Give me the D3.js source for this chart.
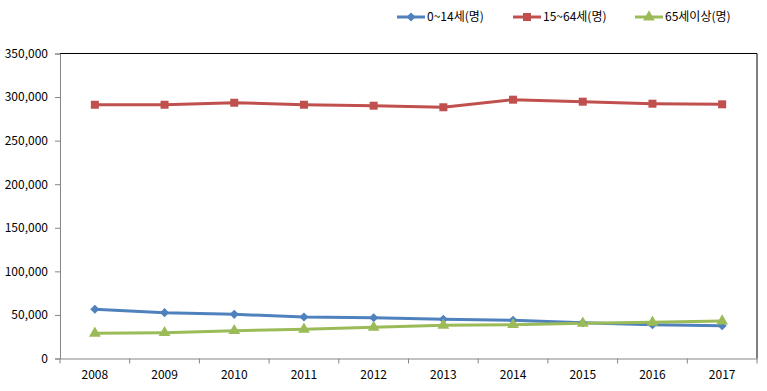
<!DOCTYPE html>
<html><head><meta charset="utf-8">
<script src="https://cdn.jsdelivr.net/npm/d3@7"></script>
<style>body{margin:0;background:#fff}svg{display:block}text{font-family:"Malgun Gothic","Noto Sans CJK KR",sans-serif;font-size:12px;fill:#000}</style>
</head><body><svg id="c" width="767" height="391"></svg>
<script>
const years = ["2008","2009","2010","2011","2012","2013","2014","2015","2016","2017"];
const seriesNames = ["0~14세(명)","15~64세(명)","65세이상(명)"];
const child = [56500,52600,50700,47600,46800,45000,43800,41100,38800,37600];
const working = [291200,291200,293500,291200,290100,288300,297000,294700,292400,291700];
const elderly = [28900,29600,31900,33500,35800,38100,38800,40400,41500,43000];
const yTicks = [0,50000,100000,150000,200000,250000,300000,350000];
const colors = ["#4F81BD","#C0504D","#9BBB59"];
const rhombus = {draw(ctx,size){const r=Math.sqrt(size/2);ctx.moveTo(0,-r);ctx.lineTo(r,0);ctx.lineTo(0,r);ctx.lineTo(-r,0);ctx.closePath();}};
const markers = [rhombus, d3.symbolSquare, d3.symbolTriangle];
const markerSizes = [42, 64, 60];

const svg = d3.select("#c");
const L=60, R=757, T=53.5, B=358.5;
const x = d3.scaleBand().domain(years).range([L,R]);
const y = d3.scaleLinear().domain([0,350000]).range([B,T]);
const fmt = d3.format(",");

svg.append("line").attr("x1",L).attr("x2",R).attr("y1",T).attr("y2",T).attr("stroke","#000");
svg.append("line").attr("x1",R).attr("x2",R).attr("y1",T).attr("y2",B).attr("stroke","#000");

const ya = svg.append("g").attr("transform",`translate(${L},0)`)
  .call(d3.axisLeft(y).tickValues(yTicks).tickFormat(fmt).tickSizeOuter(0).tickSize(5).tickPadding(7));
ya.select(".domain").attr("stroke","#868686");
ya.selectAll(".tick line").attr("stroke","#868686");
ya.selectAll("text").attr("font-size",12).style("font-family",null);

const xa = svg.append("g").attr("transform",`translate(0,${B})`)
  .call(d3.axisBottom(x).tickSize(0).tickPadding(12));
xa.select(".domain").attr("stroke","#868686");
xa.selectAll("text").attr("font-size",12).style("font-family",null);
const bounds = years.map(d=>x(d)).concat([R]);
xa.selectAll(".bt").data(bounds).enter().append("line").attr("class","bt")
  .attr("x1",d=>d).attr("x2",d=>d).attr("y1",0).attr("y2",5).attr("stroke","#868686");

const data = [child, working, elderly];
const line = d3.line().x((d,i)=>x(years[i])+x.bandwidth()/2).y(d=>y(d));
data.forEach((vals,k)=>{
  svg.append("path").datum(vals).attr("d",line).attr("fill","none")
    .attr("stroke",colors[k]).attr("stroke-width",3).attr("stroke-linejoin","round");
});
data.forEach((vals,k)=>{
  svg.append("g").selectAll("path").data(vals).enter().append("path")
    .attr("d",d3.symbol().type(markers[k]).size(markerSizes[k]))
    .attr("transform",(d,i)=>`translate(${x(years[i])+x.bandwidth()/2},${y(d)})`)
    .attr("fill",colors[k]);
});

const legX = [397,513,635];
seriesNames.forEach((n,k)=>{
  const g = svg.append("g").attr("transform",`translate(${legX[k]},17)`);
  g.append("line").attr("x1",0).attr("x2",28).attr("stroke",colors[k]).attr("stroke-width",3);
  g.append("path").attr("d",d3.symbol().type(markers[k]).size(markerSizes[k])).attr("transform","translate(14,0)").attr("fill",colors[k]);
  g.append("text").attr("x",30).attr("dy","0.35em").text(n);
});
</script></body></html>
